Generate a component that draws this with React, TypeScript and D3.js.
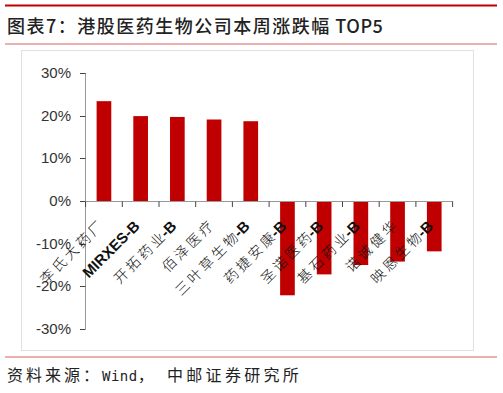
import React from "react";
import * as d3 from "d3";

const categories = ["李氏大药厂", "MIRXES-B", "开拓药业-B", "佰泽医疗", "三叶草生物-B", "药捷安康-B", "圣诺医药-B", "基石药业-B", "诺诚健华", "映恩生物-B"];
const values = [23.4, 19.9, 19.7, 19.1, 18.7, -22.1, -17.2, -15.0, -14.2, -11.8];
const yTicks = [-30, -20, -10, 0, 10, 20, 30];

const W = 503, H = 393;
const RED = "#c00000";

export default function App() {
  const x = d3.scaleBand<string>().domain(categories).range([85.6, 452.6]).paddingInner(0.6).paddingOuter(0.3);
  const y = d3.scaleLinear().domain([-30, 30]).range([329, 73]);
  const step = x.step();
  const y0 = y(0);
  const boundaries = d3.range(categories.length + 1).map((i) => 85.6 + i * step);
  const cjk = "'Noto Sans CJK SC', 'Liberation Sans', sans-serif";
  const arial = "'Liberation Sans', Arial, sans-serif";
  return (
    <svg width={W} height={H} style={{ position: "absolute", left: 0, top: 0 }} xmlns="http://www.w3.org/2000/svg">
      <rect x={0} y={0} width={W} height={H} fill="#fff" />
      <line x1={5} x2={497} y1={5.5} y2={5.5} stroke={RED} strokeWidth={2} />
      <text x={7} y={33} fontFamily={cjk} fontSize={18} fontWeight={500} fill="#222" letterSpacing={1.5}>
        图表7：港股医药生物公司本周涨跌幅<tspan letterSpacing={0.5}> TOP5</tspan>
      </text>
      <line x1={5} x2={497} y1={44} y2={44} stroke="#d96060" strokeWidth={1} />
      <rect x={21.5} y={50.5} width={452} height={300} fill="none" stroke="#e0e0e0" strokeWidth={1} />

      {categories.map((c, i) => {
        const v = values[i];
        const top = Math.min(y(v), y0);
        const h = Math.abs(y(v) - y0);
        return <rect key={c} x={x(c)} y={top} width={x.bandwidth()} height={h} fill={RED} />;
      })}

      <line x1={85.5} x2={85.5} y1={y(30)} y2={y(-30)} stroke="#999" strokeWidth={1} />
      {yTicks.map((t) => (
        <g key={t}>
          <line x1={80} x2={85.5} y1={Math.round(y(t)) + 0.5} y2={Math.round(y(t)) + 0.5} stroke="#444" strokeWidth={1} />
          <text x={71} y={y(t) + 5} textAnchor="end" fontFamily={arial} fontSize={15} fill="#333">
            {t}%
          </text>
        </g>
      ))}

      <line x1={85.5} x2={453} y1={Math.round(y0) + 0.5} y2={Math.round(y0) + 0.5} stroke="#999" strokeWidth={1} />
      {boundaries.map((b, i) => (
        <line key={i} x1={b} x2={b} y1={Math.round(y0) + 0.5} y2={Math.round(y0) + 6} stroke="#444" strokeWidth={1} />
      ))}

      {categories.map((c) => {
        const cx = (x(c) as number) + x.bandwidth() / 2;
        const cy = y0 + 26;
        const latin = /^[A-Z\-]+$/.test(c);
        const hasB = c.endsWith("-B");
        const zh = hasB ? c.slice(0, -2) : c;
        return (
          <text key={"l" + c} x={cx} y={cy} textAnchor="end" transform={`rotate(-45 ${cx} ${cy})`}
            fontFamily={latin ? arial : cjk} fontWeight={latin ? "bold" : 300}
            fontSize={latin ? 15 : 14} fill="#111">
            {latin ? (
              c
            ) : (
              <>
                <tspan letterSpacing={3}>{zh.slice(0, -1)}</tspan>
                <tspan letterSpacing={hasB ? 0.5 : 0}>{zh.slice(-1)}</tspan>
                {hasB && <tspan fontFamily={arial} fontWeight="bold" fontSize={15}>-B</tspan>}
              </>
            )}
          </text>
        );
      })}

      <line x1={5} x2={497} y1={357} y2={357} stroke="#d96060" strokeWidth={1} />
      <text x={7} y={381} fontFamily={cjk} fontSize={16} fill="#222" letterSpacing={3}>
        资料来源：<tspan fontFamily="'DejaVu Sans Mono', monospace" fontSize={14} letterSpacing={0.5}>Wind</tspan>，
        <tspan x={167} letterSpacing={3.3}>中邮证券研究所</tspan>
      </text>
    </svg>
  );
}
